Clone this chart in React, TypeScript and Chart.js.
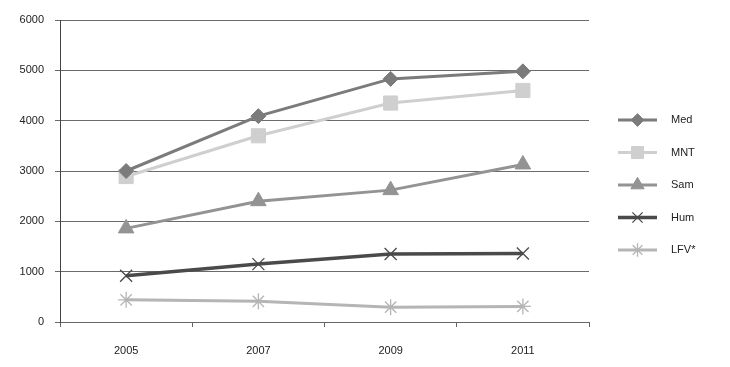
import React, { useEffect, useRef } from 'react';
import { Chart, registerables } from 'chart.js';
import { drawPoint } from 'chart.js/helpers';

Chart.register(...registerables);

const years = ['2005', '2007', '2009', '2011'];
const med = [3000, 4090, 4830, 4980];
const mnt = [2890, 3700, 4350, 4600];
const sam = [1860, 2400, 2620, 3130];
const hum = [920, 1150, 1350, 1360];
const lfv = [440, 410, 295, 310];
const seriesNames = ['Med', 'MNT', 'Sam', 'Hum', 'LFV*'];
const yMin = 0;
const yMax = 6000;
const yStep = 1000;

const FONT = 'Liberation Sans, Arial, sans-serif';

const styles = [
  { color: '#7b7b7b', pointStyle: 'rectRot', radius: 7.5, pbw: 1, lw: 3 },
  { color: '#cfcfcf', pointStyle: 'rect', radius: 10, pbw: 1, lw: 3 },
  { color: '#939393', pointStyle: 'triangle', radius: 9, pbw: 1, lw: 3 },
  { color: '#4a4a4a', pointStyle: 'crossRot', radius: 8.5, pbw: 1.3, lw: 3.5 },
  { color: '#b5b5b5', pointStyle: 'star', radius: 8, pbw: 1.3, lw: 3 },
];

const legendPlugin = {
  id: 'customLegend',
  afterDraw(chart: any) {
    const ctx = chart.ctx as CanvasRenderingContext2D;
    chart.data.datasets.forEach((ds: any, i: number) => {
      const y = 120 + i * 32.5;
      ctx.save();
      ctx.strokeStyle = ds.borderColor;
      ctx.lineWidth = ds.borderWidth;
      ctx.beginPath();
      ctx.moveTo(618, y);
      ctx.lineTo(657, y);
      ctx.stroke();
      ctx.fillStyle = ds.pointBackgroundColor;
      ctx.strokeStyle = ds.pointBorderColor;
      ctx.lineWidth = ds.pointBorderWidth;
      drawPoint(
        ctx,
        { pointStyle: ds.pointStyle, rotation: 0, radius: ds.pointRadius * 0.85, borderWidth: ds.pointBorderWidth } as any,
        637.5,
        y
      );
      ctx.fillStyle = '#222';
      ctx.font = `11px ${FONT}`;
      ctx.textAlign = 'left';
      ctx.textBaseline = 'middle';
      ctx.fillText(ds.label, 671, y);
      ctx.restore();
    });
  },
};

export default function App() {
  const ref = useRef<HTMLCanvasElement>(null);
  useEffect(() => {
    document.body.style.margin = '0';
    const seriesData = [med, mnt, sam, hum, lfv];
    const chart = new Chart(ref.current!, {
      type: 'line',
      data: {
        labels: years,
        datasets: seriesData.map((d, i) => ({
          label: seriesNames[i],
          data: d,
          borderColor: styles[i].color,
          backgroundColor: styles[i].color,
          pointBackgroundColor: styles[i].color,
          pointBorderColor: styles[i].color,
          pointStyle: styles[i].pointStyle as any,
          pointRadius: styles[i].radius,
          pointBorderWidth: styles[i].pbw,
          borderWidth: styles[i].lw,
          tension: 0,
          fill: false,
          clip: false as any,
        })),
      },
      options: {
        responsive: true,
        maintainAspectRatio: false,
        animation: false,
        layout: { padding: { top: 20, right: 141, left: 0, bottom: 0 } },
        plugins: { legend: { display: false }, tooltip: { enabled: false } },
        scales: {
          x: {
            type: 'category',
            offset: true,
            grid: { display: true, offset: true, drawOnChartArea: false, tickLength: 5, color: '#666', lineWidth: 1 },
            border: { display: true, color: '#666', width: 1 },
            ticks: { color: '#222', font: { family: FONT, size: 11 }, padding: 17, maxRotation: 0 },
            afterFit: (s: any) => { s.height = 45; },
          },
          y: {
            min: yMin,
            max: yMax,
            ticks: {
              stepSize: yStep,
              color: '#222',
              font: { family: FONT, size: 11 },
              padding: 11,
              callback: (v: any) => String(v),
            },
            grid: { color: '#6a6a6a', lineWidth: 1, tickLength: 5 },
            border: { display: true, color: '#444', width: 1 },
            afterFit: (s: any) => { s.width = 60; },
          },
        },
      },
      plugins: [legendPlugin],
    });
    return () => chart.destroy();
  }, []);
  return (
    <div style={{ position: 'relative', width: 730, height: 367 }}>
      <canvas ref={ref} />
    </div>
  );
}
